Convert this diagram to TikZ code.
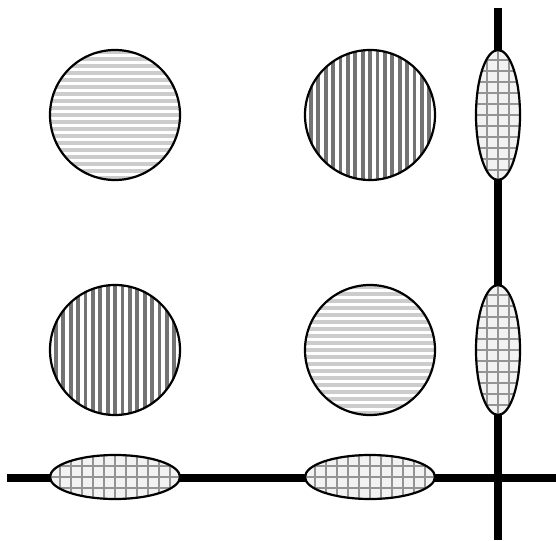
\documentclass[tikz,border=0pt]{standalone}
\usepackage{tikz}
\usetikzlibrary{shapes.geometric}

\begin{document}
\begin{tikzpicture}[
  x=1pt, y=-1pt,
  disc/.style     = {draw, circle, line width=2.2pt, fill=white, inner sep=0pt,
                     minimum size=130pt},
  lens/.style     = {draw, ellipse, line width=2.2pt, fill=white, inner sep=0pt},
  tall/.style     = {lens, minimum width=44pt, minimum height=130pt},
  flat/.style     = {lens, minimum width=130pt, minimum height=44pt},
  hstripes/.style = {path picture={
      \foreach \k in {-10,...,10}
        \draw[black!20, line width=3.5pt, shift={(path picture bounding box.center)}]
          (-80pt,\k*7pt) -- (80pt,\k*7pt);}},
  vstripes/.style = {path picture={
      \foreach \k in {-10,...,10}
        \draw[black!55, line width=3.8pt, shift={(path picture bounding box.center)}]
          (\k*7.4pt,-80pt) -- (\k*7.4pt,80pt);}},
  mesh/.style     = {fill=black!5, path picture={
      \foreach \k in {-8,...,8} {
        \draw[black!42, line width=2.6pt, shift={(path picture bounding box.center)}]
          (\k*11pt,-80pt) -- (\k*11pt,80pt);
        \draw[black!42, line width=2.6pt, shift={(path picture bounding box.center)}]
          (-80pt,\k*11pt) -- (80pt,\k*11pt);}}},
  axis/.style     = {line width=7.5pt}
]
\useasboundingbox (0,0) rectangle (556,540);

% ---- the two axes -----------------------------------------------------------
\coordinate (vtop) at (498,8);
\coordinate (vbot) at (498,540);
\coordinate (hleft) at (7,478);
\coordinate (hright) at (556,478);
\draw[axis] (vtop) -- (vbot);
\draw[axis] (hleft) -- (hright);

% ---- discs ------------------------------------------------------------------
\node[disc, hstripes] (d11) at (115,115) {};
\node[disc, vstripes] (d12) at (370,115) {};
\node[disc, vstripes] (d21) at (115,350) {};
\node[disc, hstripes] (d22) at (370,350) {};

% ---- squeezed discs on the axes ---------------------------------------------
\node[tall, mesh] (v1) at (498,115) {};
\node[tall, mesh] (v2) at (498,350) {};
\node[flat, mesh] (h1) at (115,477) {};
\node[flat, mesh] (h2) at (370,477) {};

\end{tikzpicture}
\end{document}
